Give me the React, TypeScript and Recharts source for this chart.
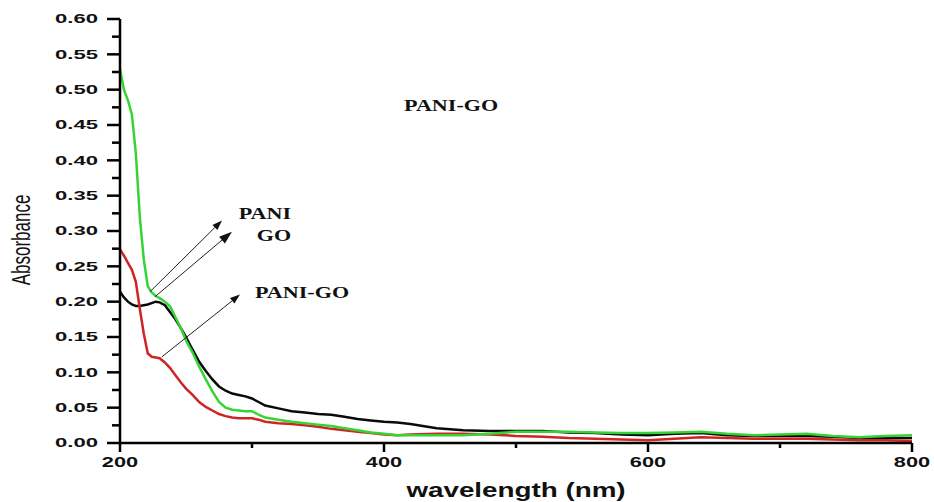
import React from "react";
import { LineChart, Line, XAxis, YAxis, ReferenceLine, ReferenceDot } from "recharts";

// wavelength (nm)
const wavelengths = [
  200, 203, 206, 209, 212, 215, 218, 221, 224, 227, 230, 234, 238, 242, 246, 250,
  255, 260, 265, 270, 275, 280, 285, 290, 295, 300, 305, 310, 320, 330, 340, 350,
  360, 370, 380, 390, 400, 410, 420, 440, 460, 480, 500, 520, 540, 560, 580, 600,
  620, 640, 660, 680, 700, 720, 740, 760, 780, 800,
];

// black curve
const blackCurve = [
  0.214, 0.206, 0.2, 0.196, 0.194, 0.194, 0.195, 0.196, 0.198, 0.2, 0.199, 0.195, 0.185, 0.175, 0.163, 0.15,
  0.132, 0.115, 0.102, 0.09, 0.08, 0.074, 0.07, 0.068, 0.066, 0.063, 0.058, 0.053, 0.049, 0.045, 0.043, 0.041,
  0.04, 0.037, 0.034, 0.032, 0.03, 0.029, 0.027, 0.021, 0.018, 0.017, 0.017, 0.017, 0.015, 0.014, 0.012, 0.011,
  0.013, 0.014, 0.011, 0.01, 0.01, 0.01, 0.009, 0.007, 0.007, 0.007,
];

// green curve
const greenCurve = [
  0.529, 0.5, 0.485, 0.465, 0.41, 0.32, 0.26, 0.222, 0.213, 0.208, 0.205, 0.2, 0.193, 0.178, 0.163, 0.145,
  0.128, 0.108, 0.09, 0.073, 0.058, 0.05, 0.047, 0.046, 0.045, 0.045, 0.04, 0.036, 0.033, 0.03, 0.028, 0.026,
  0.024, 0.021, 0.018, 0.015, 0.013, 0.011, 0.011, 0.011, 0.011, 0.013, 0.016, 0.016, 0.016, 0.015, 0.014, 0.014,
  0.015, 0.016, 0.013, 0.011, 0.012, 0.013, 0.01, 0.008, 0.01, 0.011,
];

// red curve
const redCurve = [
  0.274, 0.265, 0.255, 0.245, 0.228, 0.19, 0.155, 0.127, 0.122, 0.121, 0.12, 0.114, 0.106, 0.096, 0.086, 0.077,
  0.068, 0.058, 0.051, 0.046, 0.041, 0.038, 0.036, 0.035, 0.035, 0.035, 0.033, 0.03, 0.028, 0.027, 0.025, 0.023,
  0.02, 0.018, 0.016, 0.014, 0.012, 0.011, 0.012, 0.013, 0.013, 0.012, 0.01, 0.009, 0.007, 0.006, 0.005, 0.004,
  0.006, 0.008, 0.007, 0.006, 0.006, 0.006, 0.005, 0.004, 0.004, 0.003,
];

const yTicks = [
  0, 0.025, 0.05, 0.075, 0.1, 0.125, 0.15, 0.175, 0.2, 0.225, 0.25, 0.275, 0.3,
  0.325, 0.35, 0.375, 0.4, 0.425, 0.45, 0.475, 0.5, 0.525, 0.55, 0.575, 0.6,
];
const yLabels = [0, 0.05, 0.1, 0.15, 0.2, 0.25, 0.3, 0.35, 0.4, 0.45, 0.5, 0.55, 0.6];
const xTicks = [200, 300, 400, 500, 600, 700, 800];
const xLabels = [200, 400, 600, 800];

// arrows in data units: [wavelength, absorbance]
const arrowFrom = [
  [222.7, 0.214],
  [226.5, 0.207],
  [231.8, 0.122],
];
const arrowTo = [
  [277.3, 0.315],
  [284.8, 0.299],
  [290.9, 0.21],
];

const noteTexts = ["PANI", "GO", "PANI-GO", "PANI-GO"];
const notePos = [
  [309.8, 0.326],
  [316.7, 0.295],
  [337.9, 0.214],
  [450.8, 0.479],
];

const data = wavelengths.map((w, i) => ({
  w,
  black: blackCurve[i],
  green: greenCurve[i],
  red: redCurve[i],
}));

const near = (list: number[], v: number) => list.some((t) => Math.abs(t - v) < 1e-6);

function YTick(props: any) {
  const { x, y, payload } = props;
  const v = payload.value as number;
  const major = near(yLabels, v);
  return (
    <g>
      <line x1={x - (major ? 13 : 8)} x2={x} y1={y} y2={y} stroke="#000" strokeWidth={2.5} />
      {major && (
        <text
          transform={`translate(${x - 22},${y}) scale(1.7,1)`}
          textAnchor="end"
          dominantBaseline="central"
          fontSize={13}
          fontWeight="bold"
          fill="#111"
        >
          {v.toFixed(2)}
        </text>
      )}
    </g>
  );
}

function XTick(props: any) {
  const { x, y, payload } = props;
  const v = payload.value as number;
  const major = xLabels.includes(v);
  return (
    <g>
      <line x1={x} x2={x} y1={y} y2={y + (major ? 9 : 5)} stroke="#000" strokeWidth={2.5} />
      {major && (
        <text
          transform={`translate(${x},${y + 19}) scale(1.45,1)`}
          textAnchor="middle"
          dominantBaseline="central"
          fontSize={15}
          fontWeight="bold"
          fill="#111"
        >
          {v}
        </text>
      )}
    </g>
  );
}

function ArrowShape(props: any) {
  const { x1, y1, x2, y2, big } = props;
  const ang = Math.atan2(y2 - y1, x2 - x1);
  const len = big ? 13 : 10;
  const half = big ? 4.5 : 3.5;
  const bx = x2 - len * Math.cos(ang);
  const by = y2 - len * Math.sin(ang);
  const px = -Math.sin(ang) * half;
  const py = Math.cos(ang) * half;
  return (
    <g>
      <line x1={x1} y1={y1} x2={bx} y2={by} stroke="#222" strokeWidth={1} />
      <polygon
        points={`${x2},${y2} ${bx + px},${by + py} ${bx - px},${by - py}`}
        fill="#111"
      />
    </g>
  );
}

function NoteShape(props: any) {
  const { cx, cy, text } = props;
  return (
    <text
      transform={`translate(${cx},${cy}) scale(1.3,1)`}
      textAnchor="middle"
      dominantBaseline="central"
      fontFamily="'Liberation Serif', 'Times New Roman', serif"
      fontWeight="bold"
      fontSize={17}
      fill="#111"
    >
      {text}
    </text>
  );
}

function YTitle(props: any) {
  const vb = props.viewBox;
  return (
    <text
      transform={`translate(${vb.x + 30},${vb.y + vb.height / 2 + 9}) scale(1.5,1) rotate(-90)`}
      textAnchor="middle"
      fontSize={17}
      fill="#111"
    >
      Absorbance
    </text>
  );
}

function XTitle(props: any) {
  const vb = props.viewBox;
  return (
    <text
      transform={`translate(${vb.x + vb.width / 2},${vb.y + 54}) scale(1.39,1)`}
      textAnchor="middle"
      fontSize={20}
      fontWeight="bold"
      fill="#111"
    >
      wavelength (nm)
    </text>
  );
}

export default function App() {
  return (
    <div style={{ position: "absolute", left: 0, top: 0, background: "#fff" }}>
      <LineChart
        width={934}
        height={502}
        data={data}
        margin={{ top: 19, right: 22, bottom: 0, left: 0 }}
        style={{ fontFamily: "'Liberation Sans', Arial, sans-serif" }}
      >
        <XAxis
          dataKey="w"
          type="number"
          domain={[200, 800]}
          ticks={xTicks}
          interval={0}
          height={59}
          tickSize={0}
          tickMargin={0}
          tickLine={false}
          tick={(p: any) => <XTick {...p} />}
          axisLine={{ stroke: "#000", strokeWidth: 2.5 }}
          label={{ content: (p: any) => <XTitle {...p} /> }}
        />
        <XAxis
          xAxisId="top"
          orientation="top"
          dataKey="w"
          type="number"
          domain={[200, 800]}
          height={0}
          tick={false}
          tickLine={false}
          axisLine={{ stroke: "#000", strokeWidth: 2.5 }}
        />
        <YAxis
          type="number"
          domain={[0, 0.6]}
          ticks={yTicks}
          interval={0}
          width={120}
          tickSize={0}
          tickMargin={0}
          tickLine={false}
          tick={(p: any) => <YTick {...p} />}
          axisLine={{ stroke: "#000", strokeWidth: 2.5 }}
          label={{ content: (p: any) => <YTitle {...p} /> }}
        />
        <YAxis
          yAxisId="right"
          orientation="right"
          type="number"
          domain={[0, 0.6]}
          width={0}
          tick={false}
          tickLine={false}
          axisLine={{ stroke: "#000", strokeWidth: 2.5 }}
        />
        <Line type="linear" dataKey="black" stroke="#0a0a0a" strokeWidth={2.5} dot={false} isAnimationActive={false} />
        <Line type="linear" dataKey="red" stroke="#d02424" strokeWidth={2.5} dot={false} isAnimationActive={false} />
        <Line type="linear" dataKey="green" stroke="#35d435" strokeWidth={2.5} dot={false} isAnimationActive={false} />
        {arrowFrom.map((f, i) => (
          <ReferenceLine
            key={`arrow-${i}`}
            segment={[
              { x: f[0], y: f[1] },
              { x: arrowTo[i][0], y: arrowTo[i][1] },
            ]}
            shape={(p: any) => <ArrowShape {...p} big={i === 1} />}
          />
        ))}
        {notePos.map((pos, i) => (
          <ReferenceDot
            key={`note-${i}`}
            x={pos[0]}
            y={pos[1]}
            r={0}
            shape={(p: any) => <NoteShape {...p} text={noteTexts[i]} />}
          />
        ))}
      </LineChart>
    </div>
  );
}
